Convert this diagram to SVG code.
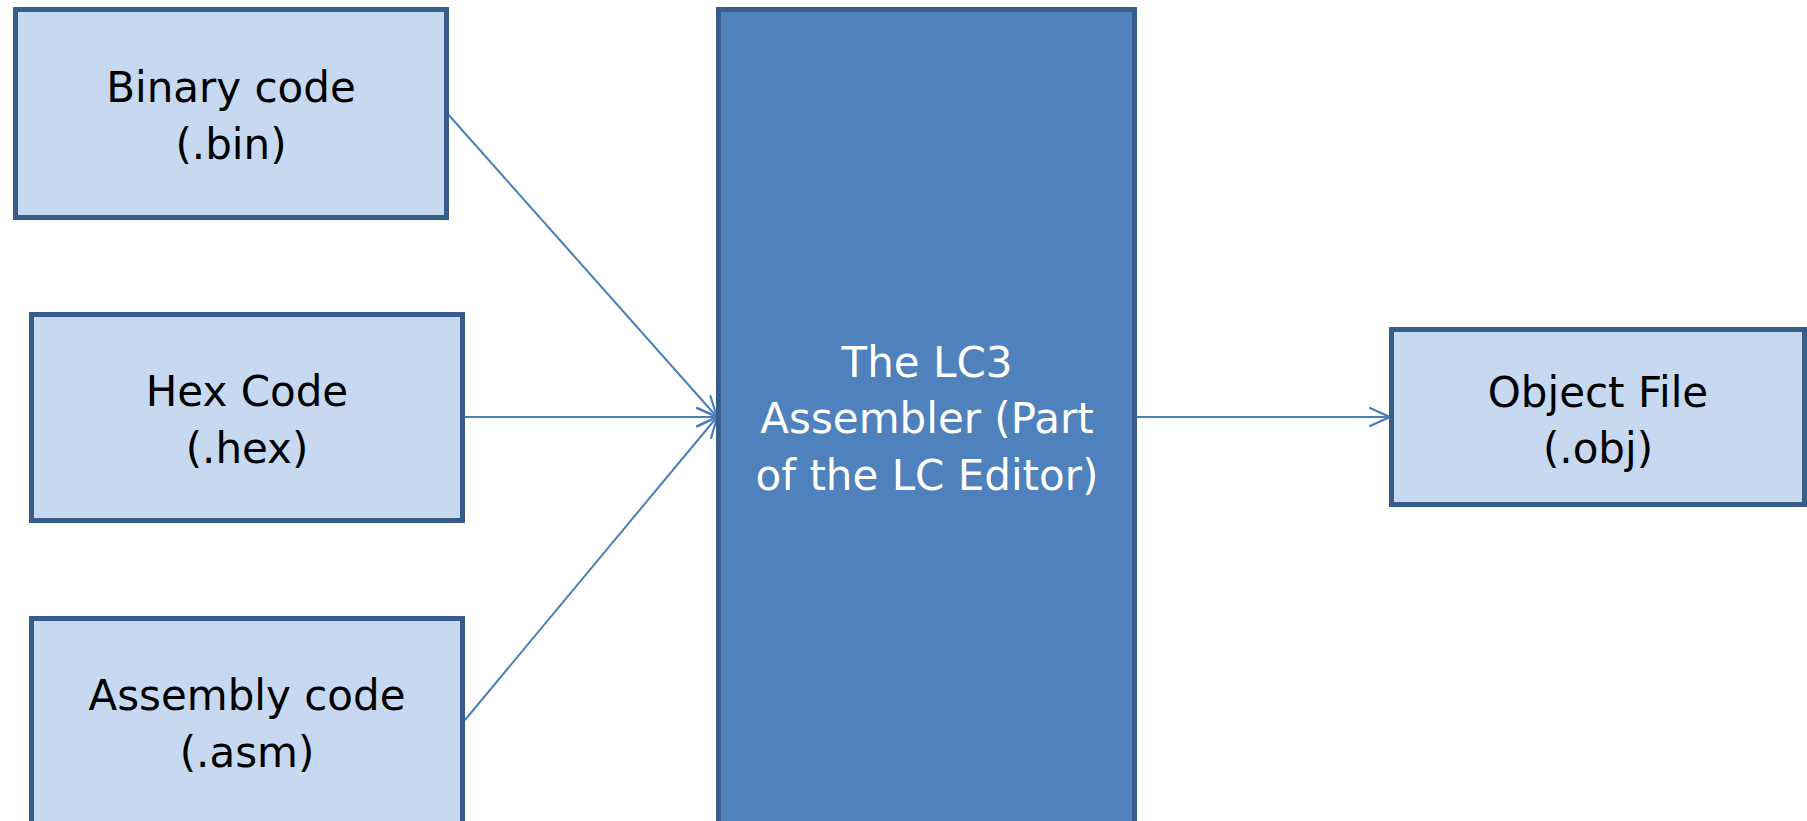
<svg xmlns="http://www.w3.org/2000/svg" width="1807" height="821" viewBox="0 0 1807 821">
  <style>
    .src { fill: #c6d9f1; stroke: #385d8a; stroke-width: 5; }
    .core { fill: #4f81bd; stroke: #385d8a; stroke-width: 5; }
    .lbl { font-family: "DejaVu Sans", Verdana, sans-serif; font-size: 42px; text-anchor: middle; fill: #000000; }
    .lbl-w { fill: #ffffff; }
    .conn { stroke: #4a7ebb; stroke-width: 2; fill: none; marker-end: url(#open-arrow); }
  </style>
  <defs>
    <marker id="open-arrow" markerUnits="userSpaceOnUse" viewBox="-24 -12 26 24" markerWidth="26" markerHeight="24" refX="0" refY="0" orient="auto">
      <path d="M -20 -9 L 0 0 L -20 9" fill="none" stroke="#4a7ebb" stroke-width="2.2" stroke-linecap="round" stroke-linejoin="round"/>
    </marker>
  </defs>
  <rect width="1807" height="821" fill="#ffffff"/>

  <g id="connectors">
    <line class="conn" x1="447" y1="113" x2="717" y2="417"/>
    <line class="conn" x1="465" y1="417" x2="717" y2="417"/>
    <line class="conn" x1="465" y1="720" x2="717" y2="417"/>
    <line class="conn" x1="1137" y1="417" x2="1390" y2="417"/>
  </g>

  <g id="node-binary">
    <rect class="src" x="15.5" y="9.5" width="431" height="208"/>
    <text class="lbl" x="231" y="102">Binary code</text>
    <text class="lbl" x="231" y="159">(.bin)</text>
  </g>

  <g id="node-hex">
    <rect class="src" x="31.5" y="314.5" width="431" height="206"/>
    <text class="lbl" x="247" y="406">Hex Code</text>
    <text class="lbl" x="247" y="463">(.hex)</text>
  </g>

  <g id="node-asm">
    <rect class="src" x="31.5" y="618.5" width="431" height="300"/>
    <text class="lbl" x="247" y="710">Assembly code</text>
    <text class="lbl" x="247" y="767">(.asm)</text>
  </g>

  <g id="node-assembler">
    <rect class="core" x="718.5" y="9.5" width="416" height="900"/>
    <text class="lbl lbl-w" x="927" y="377">The LC3</text>
    <text class="lbl lbl-w" x="927" y="433">Assembler (Part</text>
    <text class="lbl lbl-w" x="927" y="490">of the LC Editor)</text>
  </g>

  <g id="node-object">
    <rect class="src" x="1391.5" y="329.5" width="413" height="175"/>
    <text class="lbl" x="1598" y="407">Object File</text>
    <text class="lbl" x="1598" y="463">(.obj)</text>
  </g>
</svg>
